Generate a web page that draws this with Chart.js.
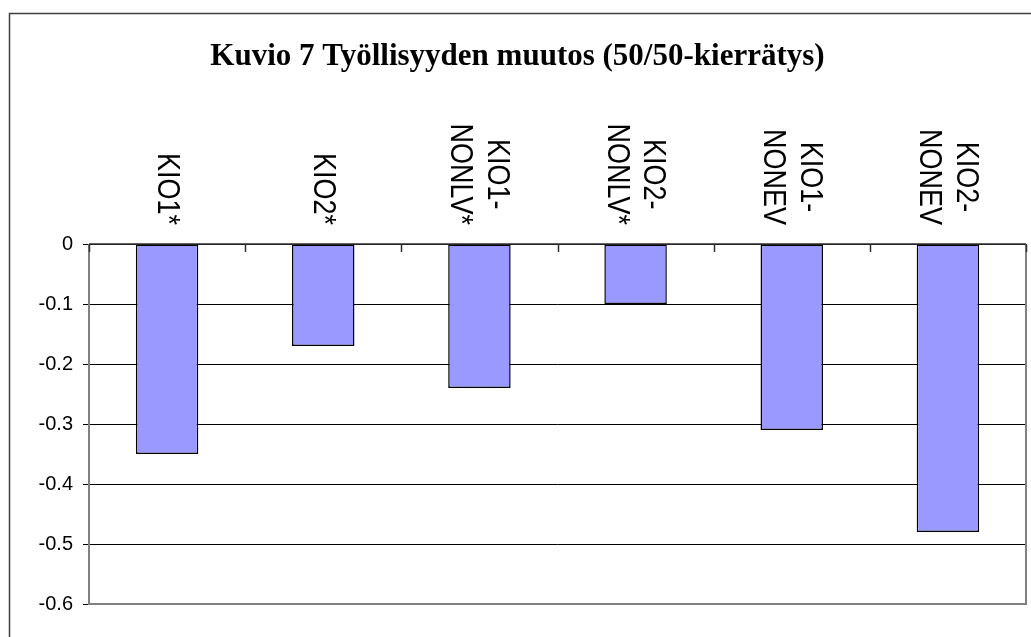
<!DOCTYPE html>
<html>
<head>
<meta charset="utf-8">
<title>Kuvio 7</title>
<script src="https://cdn.jsdelivr.net/npm/chart.js@4/dist/chart.umd.min.js"></script>
<style>
  html, body { margin: 0; padding: 0; background: #fff; }
  #wrap { width: 1031px; height: 637px; }
</style>
</head>
<body>
<div id="wrap"><canvas id="myChart" width="1031" height="637"></canvas></div>
<script>
// data
const categories = [['KIO1*'], ['KIO2*'], ['KIO1-', 'NONLV*'], ['KIO2-', 'NONLV*'], ['KIO1-', 'NONEV'], ['KIO2-', 'NONEV']];
const values = [-0.35, -0.17, -0.24, -0.10, -0.31, -0.48];
const yTickLabels = ['-0.6', '-0.5', '-0.4', '-0.3', '-0.2', '-0.1', '0'];
const titleText = 'Kuvio 7 Työllisyyden muutos (50/50-kierrätys)';

const sansFont = '"Liberation Sans", Arial, sans-serif';

// frame, plot border, zero axis with ticks, rotated category labels
const excelLook = {
    id: 'excelLook',
    afterDraw(chart) {
        const ctx = chart.ctx;
        const area = chart.chartArea;
        const x = chart.scales.x;
        const y = chart.scales.y;
        const zeroY = y.getPixelForValue(0);

        ctx.save();
        // outer frame (only left and top are inside the picture)
        ctx.strokeStyle = '#404040';
        ctx.lineWidth = 1.5;
        ctx.beginPath();
        ctx.moveTo(9.5, chart.height);
        ctx.lineTo(9.5, 13.5);
        ctx.lineTo(chart.width, 13.5);
        ctx.stroke();

        // plot area border: left, bottom, right in grey
        ctx.strokeStyle = '#808080';
        ctx.lineWidth = 2;
        ctx.beginPath();
        ctx.moveTo(area.left, area.top);
        ctx.lineTo(area.left, area.bottom);
        ctx.lineTo(area.right, area.bottom);
        ctx.lineTo(area.right, area.top);
        ctx.stroke();

        // category axis at zero
        ctx.strokeStyle = '#303030';
        ctx.lineWidth = 1.5;
        ctx.beginPath();
        ctx.moveTo(area.left, zeroY);
        ctx.lineTo(area.right, zeroY);
        const step = x.getPixelForValue(1) - x.getPixelForValue(0);
        for (let i = 0; i <= categories.length; i++) {
            const bx = Math.round(x.getPixelForValue(i) - step / 2) + 0.5;
            ctx.moveTo(bx, zeroY);
            ctx.lineTo(bx, zeroY + 8);
        }
        ctx.stroke();

        // category labels, rotated clockwise, lines centred on each other
        ctx.fillStyle = '#000';
        ctx.font = '27px ' + sansFont;
        ctx.textAlign = 'center';
        ctx.textBaseline = 'middle';
        const lh = 32;
        categories.forEach((lines, i) => {
            const cx = x.getPixelForValue(i);
            const maxW = Math.max(...lines.map(l => ctx.measureText(l).width));
            const cy = zeroY - 19 - maxW / 2;
            ctx.save();
            ctx.translate(cx - 1, cy);
            ctx.rotate(Math.PI / 2);
            ctx.scale(1, 1.15);
            lines.forEach((l, j) => {
                ctx.fillText(l, 0, (j - (lines.length - 1) / 2) * lh);
            });
            ctx.restore();
        });
        ctx.restore();
    }
};

new Chart(document.getElementById('myChart').getContext('2d'), {
    type: 'bar',
    data: {
        labels: categories,
        datasets: [{
            data: values,
            backgroundColor: '#9999FF',
            borderColor: '#000000',
            borderWidth: 1.5,
            borderSkipped: false,
            barPercentage: 0.4,
            categoryPercentage: 1.0
        }]
    },
    options: {
        responsive: false,
        animation: false,
        layout: { padding: { left: 9, right: 5, bottom: 33, top: 0 } },
        plugins: {
            legend: { display: false },
            tooltip: { enabled: false },
            title: {
                display: true,
                text: titleText,
                color: '#000',
                font: { family: '"Liberation Serif", "Times New Roman", serif', size: 31, weight: 'bold', lineHeight: 1.2 },
                padding: { top: 38.4, bottom: 168.4 }
            }
        },
        scales: {
            x: {
                display: false
            },
            y: {
                min: -0.6,
                max: 0,
                afterFit(scale) { scale.width = 80; },
                border: { display: false },
                grid: { color: '#000', lineWidth: 1, tickLength: 6, drawTicks: true },
                ticks: {
                    stepSize: 0.1,
                    color: '#000',
                    padding: 10,
                    font: { family: sansFont, size: 20 },
                    callback: (v, i) => yTickLabels[i]
                }
            }
        }
    },
    plugins: [excelLook]
});
</script>
</body>
</html>
